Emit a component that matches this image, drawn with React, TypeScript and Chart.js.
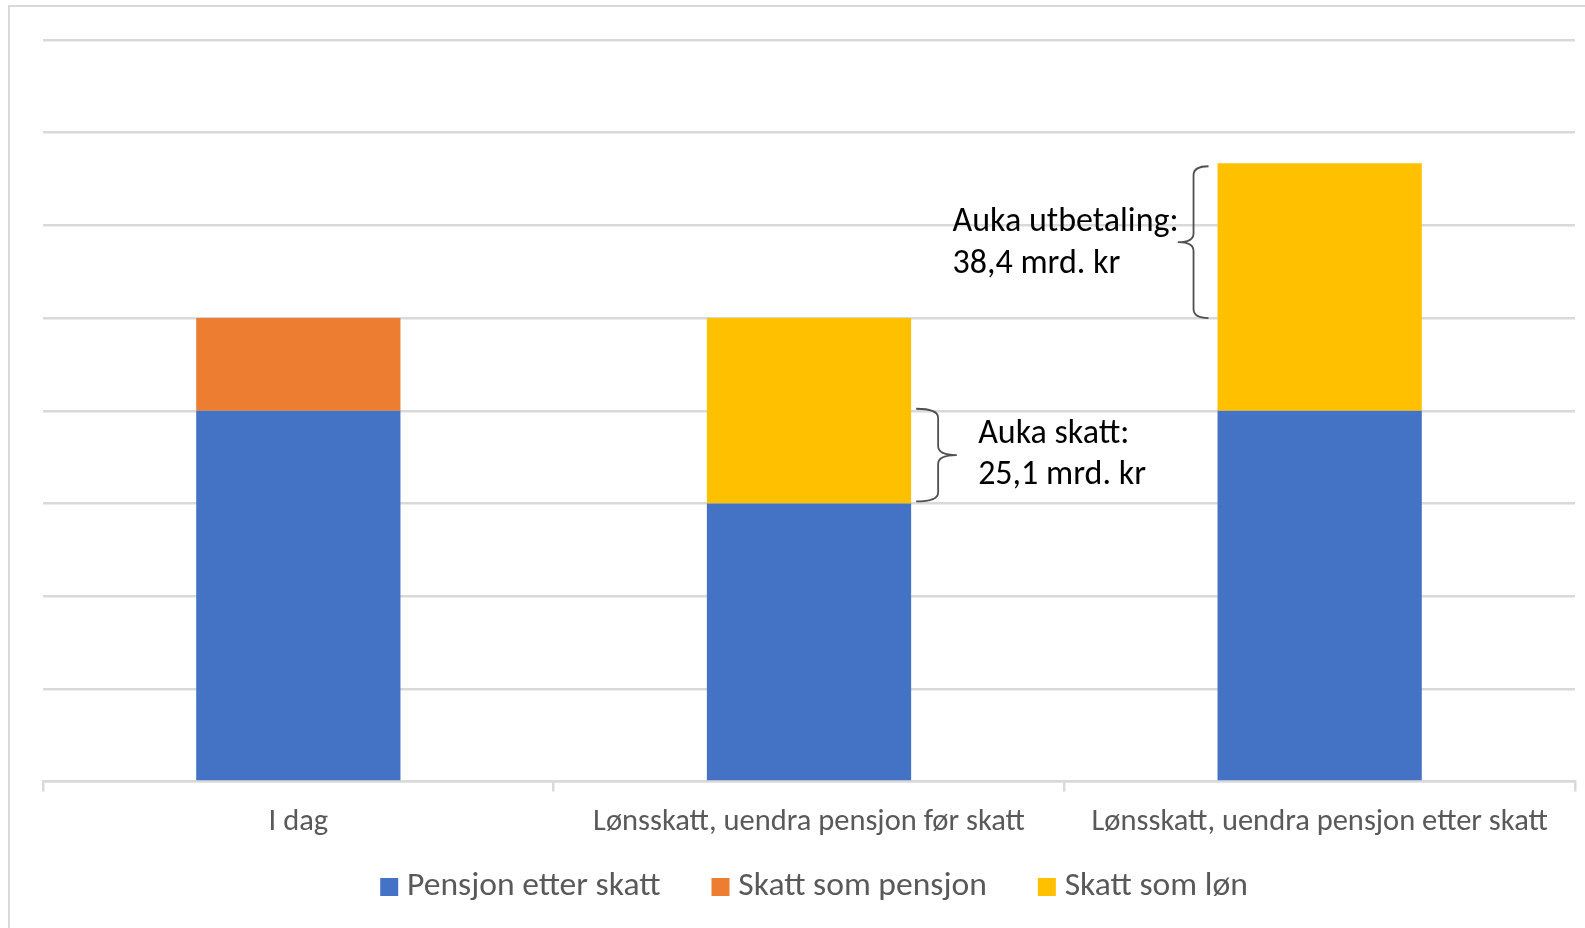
import React, { useEffect, useRef } from "react";
import { Chart, registerables } from "chart.js";

Chart.register(...registerables);

// ---- data ----
const categories = [
  "I dag",
  "Lønsskatt, uendra pensjon før skatt",
  "Lønsskatt, uendra pensjon etter skatt",
];
const seriesNames = ["Pensjon etter skatt", "Skatt som pensjon", "Skatt som løn"];
const pensjonEtterSkatt = [4, 3, 4];
const skattSomPensjon: (number | null)[] = [1, null, null];
const skattSomLon: (number | null)[] = [null, 2, 2.67];
const yMax = 8;
const yStep = 1;
const taxNoteLines = ["Auka skatt:", "25,1 mrd. kr"];
const payoutNoteLines = ["Auka utbetaling:", "38,4 mrd. kr"];

// ---- styles ----
const FONT = "Carlito, Lato, 'Noto Sans', sans-serif";
const COLORS = ["#4472C4", "#ED7D31", "#FFC000"];
const GRID = "#D9D9D9";
const TEXT = "#595959";
const LEGEND_FONT = 33.6;
const LEGEND_PAD = 59;

function drawBrace(
  ctx: CanvasRenderingContext2D,
  xh: number,
  xv: number,
  xt: number,
  yt: number,
  yb: number,
  r: number
) {
  const ym = (yt + yb) / 2;
  ctx.beginPath();
  ctx.moveTo(xh, yt);
  ctx.quadraticCurveTo(xv, yt, xv, yt + r);
  ctx.lineTo(xv, ym - r);
  ctx.quadraticCurveTo(xv, ym, xt, ym);
  ctx.quadraticCurveTo(xv, ym, xv, ym + r);
  ctx.lineTo(xv, yb - r);
  ctx.quadraticCurveTo(xv, yb, xh, yb);
  ctx.stroke();
}

const legendShiftPlugin = {
  id: "legendShift",
  afterLayout(chart: any) {
    const lg = chart.legend;
    if (!lg) return;
    lg.top = chart.chartArea.bottom + 105.5 - LEGEND_PAD - LEGEND_FONT / 2;
    lg.bottom = chart.height;
    lg.height = lg.bottom - lg.top;
    lg.left += 9;
    lg.right += 9;
  },
};

const bracePlugin = {
  id: "braces",
  afterDatasetsDraw(chart: any) {
    const ctx: CanvasRenderingContext2D = chart.ctx;
    const y = chart.scales.y;
    const lonMeta = chart.getDatasetMeta(2);
    const mid = lonMeta.data[1] as any;
    const right = lonMeta.data[2] as any;
    if (!mid || !right) return;
    ctx.save();
    ctx.strokeStyle = "#505050";
    ctx.lineWidth = 1.8;
    ctx.lineJoin = "round";

    // left brace "}" : increase in tax
    const R = mid.x + mid.width / 2;
    const ytL = y.getPixelForValue(
      pensjonEtterSkatt[1] + (skattSomLon[1] ?? 0) - (skattSomPensjon[0] ?? 0)
    );
    const ybL = y.getPixelForValue(pensjonEtterSkatt[1]);
    drawBrace(ctx, R + 5, R + 27, R + 45, ytL - 2, ybL - 2, 9);

    // right brace "{" : increase in payout
    const L = right.x - right.width / 2;
    const ytR = y.getPixelForValue(pensjonEtterSkatt[2] + (skattSomLon[2] ?? 0));
    const ybR = y.getPixelForValue(pensjonEtterSkatt[0] + (skattSomPensjon[0] ?? 0));
    drawBrace(ctx, L - 9, L - 24, L - 39, ytR + 3, ybR, 9);

    ctx.fillStyle = "#000000";
    ctx.font = `34px ${FONT}`;
    ctx.textAlign = "left";
    ctx.textBaseline = "alphabetic";
    ctx.fillText(taxNoteLines[0], R + 67, ytL + 32);
    ctx.fillText(taxNoteLines[1], R + 67, ytL + 73);
    ctx.fillText(payoutNoteLines[0], L - 265, ybR - 87);
    ctx.fillText(payoutNoteLines[1], L - 265, ybR - 45);
    ctx.restore();
  },
};

export default function App() {
  const ref = useRef<HTMLCanvasElement | null>(null);
  useEffect(() => {
    if (!ref.current) return;
    const chart = new Chart(ref.current, {
      type: "bar",
      data: {
        labels: categories,
        datasets: [
          { label: seriesNames[0], data: pensjonEtterSkatt, backgroundColor: COLORS[0], borderWidth: 0 },
          { label: seriesNames[1], data: skattSomPensjon, backgroundColor: COLORS[1], borderWidth: 0 },
          { label: seriesNames[2], data: skattSomLon, backgroundColor: COLORS[2], borderWidth: 0 },
        ],
      },
      options: {
        animation: false,
        responsive: true,
        maintainAspectRatio: false,
        datasets: { bar: { categoryPercentage: 1, barPercentage: 0.4 } },
        layout: { padding: { left: 43, right: 10, top: 40, bottom: 0 } },
        plugins: {
          tooltip: { enabled: false },
          legend: {
            position: "bottom",
            maxHeight: 86.5,
            labels: {
              font: { family: FONT, size: LEGEND_FONT },
              color: TEXT,
              usePointStyle: true,
              pointStyle: "rect",
              boxWidth: 2,
              boxHeight: 18,
              padding: LEGEND_PAD,
            },
          },
        },
        scales: {
          x: {
            stacked: true,
            grid: {
              display: true,
              drawOnChartArea: false,
              drawTicks: true,
              tickLength: 10,
              color: GRID,
              lineWidth: 2.5,
            },
            border: { display: true, color: GRID, width: 2.5 },
            ticks: {
              font: { family: FONT, size: 30.5 },
              color: TEXT,
              padding: 13,
              maxRotation: 0,
              autoSkip: false,
            },
            afterFit: (scale: any) => {
              scale.height = 60;
            },
          },
          y: {
            stacked: true,
            min: 0,
            max: yMax,
            ticks: { display: false, stepSize: yStep },
            grid: { color: GRID, lineWidth: 2.5, drawTicks: false },
            border: { display: false },
          },
        },
      },
      plugins: [legendShiftPlugin, bracePlugin],
    });
    return () => chart.destroy();
  }, []);

  return (
    <div style={{ position: "fixed", left: 0, top: 0, width: 1585, height: 928, background: "#fff", overflow: "hidden" }}>
      <div
        style={{
          position: "absolute",
          left: 8,
          top: 5,
          width: 1600,
          height: 960,
          borderLeft: `2.5px solid ${GRID}`,
          borderTop: `2.5px solid ${GRID}`,
          boxSizing: "border-box",
        }}
      />
      <canvas ref={ref} style={{ position: "absolute", left: 0, top: 0, width: 1585, height: 928 }} />
    </div>
  );
}
